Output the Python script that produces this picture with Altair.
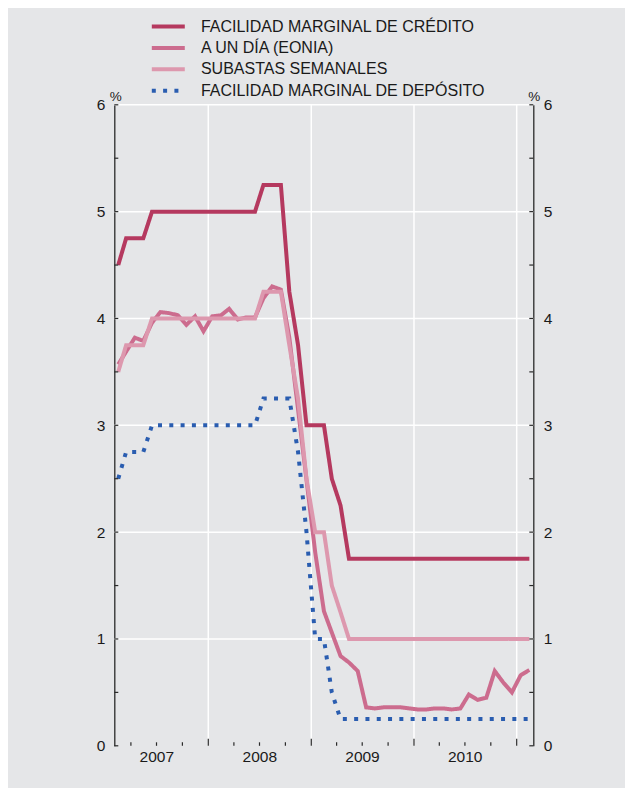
import altair as alt
import pandas as pd

# --- data (monthly, Feb-2007 .. Feb-2011) ---
meses = [f"{2007 + (m - 1) // 12}-{(m - 1) % 12 + 1:02d}-15" for m in range(2, 51)]

series = [
    "FACILIDAD MARGINAL DE CRÉDITO",
    "A UN DÍA (EONIA)",
    "SUBASTAS SEMANALES",
    "FACILIDAD MARGINAL DE DEPÓSITO",
]

credito = [4.5, 4.75, 4.75, 4.75, 5.0, 5.0, 5.0, 5.0, 5.0, 5.0, 5.0,
           5.0, 5.0, 5.0, 5.0, 5.0, 5.0, 5.25, 5.25, 5.25, 4.25, 3.75, 3.0,
           3.0, 3.0, 2.5, 2.25, 1.75, 1.75, 1.75, 1.75, 1.75, 1.75, 1.75, 1.75,
           1.75, 1.75, 1.75, 1.75, 1.75, 1.75, 1.75, 1.75, 1.75, 1.75, 1.75, 1.75,
           1.75, 1.75]

eonia = [3.57, 3.69, 3.82, 3.79, 3.96, 4.06, 4.05, 4.03, 3.94, 4.02, 3.88,
         4.02, 4.03, 4.09, 3.99, 4.01, 4.01, 4.19, 4.30, 4.27, 3.82, 3.15, 2.49,
         1.81, 1.26, 1.06, 0.84, 0.78, 0.70, 0.36, 0.35, 0.36, 0.36, 0.36, 0.35,
         0.34, 0.34, 0.35, 0.35, 0.34, 0.35, 0.48, 0.43, 0.45, 0.70, 0.59, 0.50,
         0.66, 0.71]

subastas = [3.5, 3.75, 3.75, 3.75, 4.0, 4.0, 4.0, 4.0, 4.0, 4.0, 4.0,
            4.0, 4.0, 4.0, 4.0, 4.0, 4.0, 4.25, 4.25, 4.25, 3.75, 3.25, 2.5,
            2.0, 2.0, 1.5, 1.25, 1.0, 1.0, 1.0, 1.0, 1.0, 1.0, 1.0, 1.0,
            1.0, 1.0, 1.0, 1.0, 1.0, 1.0, 1.0, 1.0, 1.0, 1.0, 1.0, 1.0,
            1.0, 1.0]

deposito = [2.5, 2.75, 2.75, 2.75, 3.0, 3.0, 3.0, 3.0, 3.0, 3.0, 3.0,
            3.0, 3.0, 3.0, 3.0, 3.0, 3.0, 3.25, 3.25, 3.25, 3.25, 2.75, 2.0,
            1.0, 1.0, 0.5, 0.25, 0.25, 0.25, 0.25, 0.25, 0.25, 0.25, 0.25, 0.25,
            0.25, 0.25, 0.25, 0.25, 0.25, 0.25, 0.25, 0.25, 0.25, 0.25, 0.25, 0.25,
            0.25, 0.25]

colores = ["#b5395f", "#cc6c8e", "#dd98ae", "#2a5db0"]

y_ticks = [0, 0.5, 1, 1.5, 2, 2.5, 3, 3.5, 4, 4.5, 5, 5.5, 6]
y_labels = [0, 1, 2, 3, 4, 5, 6]
y_grid = [1, 2, 3, 4, 5, 6]
inicio, fin = "2007-02-01", "2011-03-01"
anios = ["2008-01-01", "2009-01-01", "2010-01-01", "2011-01-01"]
trimestres = ["2007-04-01", "2007-07-01", "2007-10-01",
              "2008-04-01", "2008-07-01", "2008-10-01",
              "2009-04-01", "2009-07-01", "2009-10-01",
              "2010-04-01", "2010-07-01", "2010-10-01"]
etiquetas_anio = ["2007", "2008", "2009", "2010"]
centros_anio = ["2007-07-02", "2008-07-02", "2009-07-02", "2010-07-02"]

rows = []
for s, vals in zip(series, [credito, eonia, subastas, deposito]):
    for f, v in zip(meses, vals):
        rows.append({"fecha": f, "serie": s, "valor": v})
df = pd.DataFrame(rows)

FONT = "Liberation Sans"
TXT = "#1a1a1a"
AX = "#2a2a2a"
BG = "#e5e6e8"

def utc(s):
    y, m, d = (int(p) for p in s.split("-"))
    return alt.DateTime(year=y, month=m, date=d, utc=True)

xs = alt.Scale(type="utc", domain=[utc(inicio), utc(fin)])
ys = alt.Scale(domain=[0, 6], nice=False, zero=False)

color_scale = alt.Scale(domain=series, range=colores)
dash_scale = alt.Scale(domain=series, range=[[1, 0], [1, 0], [1, 0], [4, 7.3]])
leg = alt.Legend(title=None)

x_axis = alt.Axis(values=[utc(a) for a in anios], labels=False, title=None)
y_left = alt.Axis(
    values=y_labels, labelPadding=9.5,
    title="%", titleAngle=0, titleX=1, titleY=-4.5, titleAlign="center",
    titleBaseline="alphabetic",
)
y_right = alt.Axis(
    orient="right", values=y_labels, labelPadding=10,
    title="%", titleAngle=0, titleX=0.5, titleY=-4.5, titleAlign="center",
    titleBaseline="alphabetic",
)

# white grid lines (drawn first, below everything)
hgrid_df = pd.DataFrame({"v": y_grid, "d": [inicio] * len(y_grid), "d2": [fin] * len(y_grid)})
vgrid_df = pd.DataFrame({"d": anios, "cero": [0] * len(anios), "seis": [6] * len(anios)})
hgrid = alt.Chart(hgrid_df).mark_rule(color="white", strokeWidth=1.5).encode(
    x=alt.X("d:T", scale=xs, axis=None), x2="d2",
    y=alt.Y("v:Q", scale=ys, axis=None),
)
vgrid = alt.Chart(vgrid_df).mark_rule(color="white", strokeWidth=1.5).encode(
    x=alt.X("d:T", scale=xs, axis=None),
    y=alt.Y("cero:Q", scale=ys, axis=None), y2="seis",
)

layers = []
for i, s in enumerate(series):
    layers.append(
        alt.Chart(df).transform_filter(alt.datum.serie == s)
        .mark_line(strokeWidth=4, strokeJoin="miter")
        .encode(
            x=alt.X("fecha:T", scale=xs, axis=x_axis if i == 0 else None),
            y=alt.Y("valor:Q", scale=ys, axis=y_left if i == 0 else None),
            color=alt.Color("serie:N", scale=color_scale, legend=leg),
            strokeDash=alt.StrokeDash("serie:N", scale=dash_scale, legend=leg),
        )
    )

left_df = pd.DataFrame({"v": y_ticks, "d": [inicio] * len(y_ticks)})
right_df = pd.DataFrame({"v": y_ticks, "d": [fin] * len(y_ticks)})
minor_df = pd.DataFrame({"d": trimestres, "cero": [0] * len(trimestres)})
major_df = pd.DataFrame({"d": anios, "cero": [0] * len(anios)})
year_df = pd.DataFrame({"d": centros_anio, "t": etiquetas_anio, "cero": [0] * len(etiquetas_anio)})

right_ticks = alt.Chart(right_df).mark_rule(color=AX, strokeWidth=1.2, x2Offset=-4).encode(
    x=alt.X("d:T", scale=xs, axis=None), x2="d",
    y=alt.Y("v:Q", scale=ys, axis=y_right),
)
left_ticks = alt.Chart(left_df).mark_rule(color=AX, strokeWidth=1.2, x2Offset=4).encode(
    x=alt.X("d:T", scale=xs, axis=None), x2="d",
    y=alt.Y("v:Q", scale=ys, axis=None),
)
minor_ticks = alt.Chart(minor_df).mark_rule(color=AX, strokeWidth=1.2, y2Offset=-3.5).encode(
    x=alt.X("d:T", scale=xs, axis=None),
    y=alt.Y("cero:Q", scale=ys, axis=None), y2="cero",
)
major_ticks = alt.Chart(major_df).mark_rule(color=AX, strokeWidth=1.2, y2Offset=-7).encode(
    x=alt.X("d:T", scale=xs, axis=None),
    y=alt.Y("cero:Q", scale=ys, axis=None), y2="cero",
)
year_labels = alt.Chart(year_df).mark_text(
    baseline="top", align="center", dy=4.5, font=FONT, fontSize=15.5, color=TXT,
).encode(
    x=alt.X("d:T", scale=xs, axis=None),
    y=alt.Y("cero:Q", scale=ys, axis=None),
    text="t:N",
)

chart = alt.layer(
    hgrid, vgrid, *layers, right_ticks, left_ticks, minor_ticks, major_ticks, year_labels
).resolve_axis(y="independent").properties(
    width=419, height=641,
    autosize=alt.AutoSizeParams(type="none"),
    padding={"left": 106.3, "top": 96.8, "right": 91.7, "bottom": 42.2},
    background=BG,
).configure_view(
    stroke=None, fill=BG,
).configure_axis(
    grid=False, ticks=False, domain=True, domainColor=AX, domainWidth=1.3,
    labelFont=FONT, labelFontSize=15.5, labelColor=TXT,
    titleFont=FONT, titleFontSize=13.5, titleFontWeight="normal", titleColor=TXT,
).configure_legend(
    orient="none", legendX=43.5, legendY=-88.8, direction="vertical",
    symbolType="M-2,0H2", symbolSize=272, symbolStrokeWidth=4,
    labelFont=FONT, labelFontSize=16, labelColor=TXT, labelOffset=22.1,
    labelLimit=500, rowPadding=2.4, padding=0,
)

chart.save("out.html", embed_options={"renderer": "svg", "actions": False})
